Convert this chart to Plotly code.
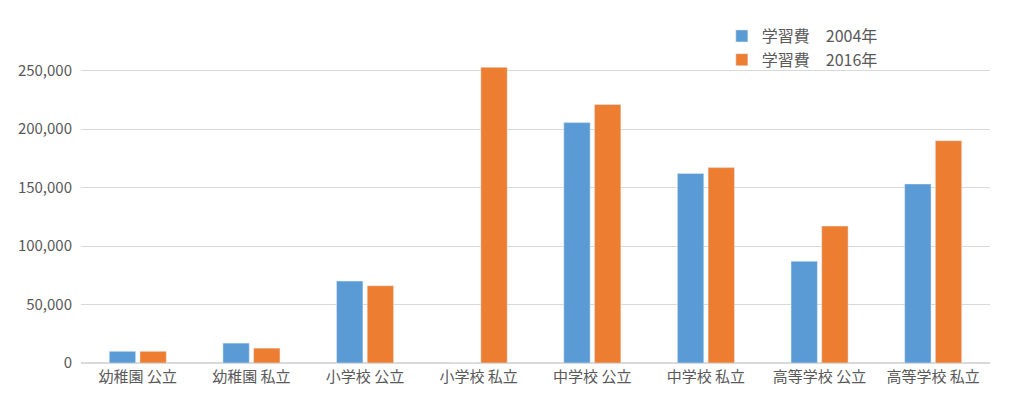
import plotly.graph_objects as go

categories = ["幼稚園 公立","幼稚園 私立","小学校 公立","小学校 私立","中学校 公立","中学校 私立","高等学校 公立","高等学校 私立"]
y2004 = [10000, 17000, 70000, 0, 205500, 162000, 87000, 153000]
y2016 = [10000, 12700, 66000, 252700, 221000, 167000, 117000, 190000]

fig = go.Figure()
fig.add_bar(x=categories, y=y2004, name="学習費　2004年", marker_color="#5B9BD5")
fig.add_bar(x=categories, y=y2016, name="学習費　2016年", marker_color="#ED7D31")
fig.update_layout(
    width=1024, height=402, plot_bgcolor="white", paper_bgcolor="white",
    margin=dict(l=73, r=42, t=4, b=47),
    font=dict(family="Noto Sans CJK JP", size=15, color="#595959"),
    barmode="group", bargap=0.46, bargroupgap=0.14,
    legend=dict(x=0.705, y=0.98, xanchor="left", yanchor="top", bgcolor="rgba(0,0,0,0)", font=dict(size=16)),
    yaxis=dict(range=[0, 300000], dtick=50000, tickformat=",", gridcolor="#D9D9D9", zeroline=True, zerolinecolor="#D9D9D9", ticks="", ticklabelstandoff=8),
    xaxis=dict(showline=True, linecolor="#D9D9D9", ticks=""),
)
fig.write_html("out.html")
